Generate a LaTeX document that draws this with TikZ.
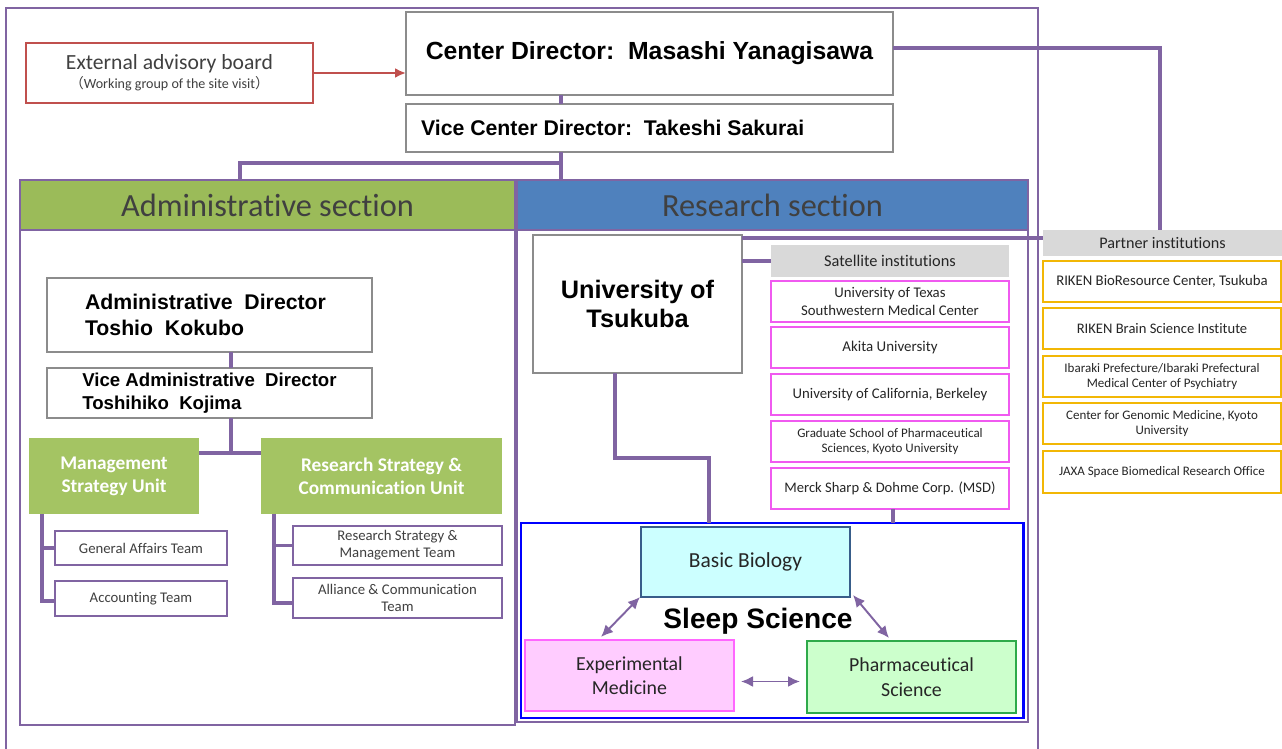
\documentclass[tikz,border=0pt]{standalone}
\usepackage{fontspec}
\setmainfont{Carlito}[Ligatures={NoCommon}]
\newfontfamily\arialf{Liberation Sans}
\newfontfamily\cjkf{Noto Sans CJK JP}
\usetikzlibrary{arrows.meta,calc}
\definecolor{purp}{HTML}{8064A2}
\definecolor{boxgray}{HTML}{8C8C8C}
\definecolor{redb}{HTML}{C0504D}
\definecolor{admgreen}{HTML}{9BBB59}
\definecolor{unitgreen}{HTML}{A4C463}
\definecolor{resblue}{HTML}{4F81BD}
\definecolor{hdtext}{HTML}{404040}
\definecolor{lgray}{HTML}{D9D9D9}
\definecolor{magb}{HTML}{F05AF0}
\definecolor{goldb}{HTML}{F2B705}
\definecolor{txt}{HTML}{262626}
\definecolor{bbfill}{HTML}{CCFFFF}
\definecolor{bbdraw}{HTML}{385D8A}
\definecolor{emfill}{HTML}{FFCCFF}
\definecolor{emdraw}{HTML}{FF66FF}
\definecolor{psfill}{HTML}{CCFFCC}
\definecolor{psdraw}{HTML}{2EAA4A}
\tikzset{
  sz/.style 2 args={minimum width=#1*0.02cm, minimum height=#2*0.02cm, inner sep=0pt, outer sep=0pt},
  conn/.style={draw=purp, line width=2pt},
  frame/.style={draw=purp, line width=1.2pt},
  graybox/.style={draw=boxgray, line width=1pt, fill=white, align=center, text=black},
  header/.style={draw=purp, line width=1.2pt, text=hdtext, font=\fontsize{18.4}{20}\selectfont},
  unitbox/.style={fill=unitgreen, text=white, align=center, font=\bfseries\fontsize{11}{13}\selectfont},
  teambox/.style={draw=purp, line width=1.1pt, fill=white, text=hdtext, align=center},
  satbox/.style={draw=magb, line width=1pt, fill=white, text=txt, align=center},
  partbox/.style={draw=goldb, line width=1pt, fill=white, text=txt, align=center},
  graylabel/.style={fill=lgray, text=txt, align=center},
  dbl/.style={draw=purp, line width=1.1pt, {Latex[length=2.4mm,width=2.2mm]}-{Latex[length=2.4mm,width=2.2mm]}},
}
\begin{document}
\begin{tikzpicture}[x=0.02cm, y=-0.02cm]
\useasboundingbox (0,0) rectangle (1282,749);
\clip (0,0) rectangle (1282,749);
\fill[white] (0,0) rectangle (1282,749);

% outer frame
\draw[frame] (6,760) -- (6,8) -- (1038,8) -- (1038,760);

% top
\node[sz={287}{60}, draw=redb, line width=1.2pt, fill=white, align=center, text=hdtext] (ext) at (169.5,73)
  {{\fontsize{12.3}{15}\selectfont External advisory board}\\[-1pt]{\fontsize{8}{10}\selectfont{\cjkf （}Working group of the site visit{\cjkf ）}}};
\node[sz={487}{83}, graybox, font=\arialf\bfseries\fontsize{14.1}{16}\selectfont] (cdir) at (649.5,53.5) {Center Director:\ \ Masashi Yanagisawa};
\node[sz={487}{48}, graybox, font=\arialf\bfseries\fontsize{12.1}{14}\selectfont] (vdir) at (649.5,128) {\makebox[9.74cm][l]{\hspace{0.3cm}Vice Center Director:\ \ Takeshi Sakurai}};

% sections
\node[sz={495}{545}, frame, anchor=north west] (asec) at (20,180) {};
\node[sz={511}{542}, frame, anchor=north west] (rsec) at (517,180) {};
\node[sz={495}{50}, header, fill=admgreen] (ahead) at (267.5,205) {Administrative section};
\node[sz={511}{50}, header, fill=resblue] (rhead) at (772.5,205) {Research section};

% trunk connectors
\coordinate (trunk) at (561,163);
\coordinate (adrop) at (240,163);
\draw[conn] (cdir.south -| trunk) -- (vdir.north -| trunk);
\draw[conn] (vdir.south -| trunk) -- (rhead.north -| trunk);
\draw[conn] (trunk) -- (adrop) -- (ahead.north -| adrop);
\draw[redb, line width=1.3pt, -{Latex[length=2.2mm,width=2mm]}] (ext.east) -- (ext.east -| cdir.west);

% admin content
\node[sz={325}{74}, graybox, font=\arialf\bfseries\fontsize{12.1}{14.6}\selectfont] (ad) at (209.5,315) {\parbox{6.5cm}{\hspace*{0.76cm}Administrative\ \ Director\\\hspace*{0.76cm}Toshio\ \ Kokubo}};
\node[sz={325}{50}, graybox, align=left, font=\arialf\bfseries\fontsize{10.6}{13.4}\selectfont] (vad) at (209.5,393) {Vice Administrative\ \ Director\\Toshihiko\ \ Kojima};
\node[sz={170}{76}, unitbox] (msu) at (114,476) {Management\\Strategy Unit};
\node[sz={241}{76}, unitbox] (rscu) at (381.5,476) {Research Strategy \&\\Communication Unit};
\node[sz={172}{34}, teambox, font=\fontsize{8.4}{9.5}\selectfont] (gat) at (141,548) {General Affairs Team};
\node[sz={172}{35}, teambox, font=\fontsize{8.4}{9.5}\selectfont] (acc) at (141,598.5) {Accounting Team};
\node[sz={209}{39}, teambox, font=\fontsize{8.4}{9.6}\selectfont] (rsm) at (397.5,545.5) {Research Strategy \&\\Management Team};
\node[sz={209}{40}, teambox, font=\fontsize{8.4}{9.6}\selectfont] (act) at (397.5,598) {Alliance \& Communication\\Team};

\coordinate (ax) at (231,453);
\coordinate (mx) at (42,601);
\coordinate (rx) at (274,603);
\draw[conn] (ad.south -| ax) -- (vad.north -| ax);
\draw[conn] (vad.south -| ax) -- (ax);
\draw[conn] (msu.east |- ax) -- (rscu.west |- ax);
\draw[conn] (msu.south -| mx) -- (mx) -- (acc.west |- mx);
\draw[conn] (gat.west -| mx) -- (gat.west);
\draw[conn] (rscu.south -| rx) -- (rx) -- (act.west |- rx);
\draw[conn] (rsm.west -| rx) -- (rsm.west);

% research content
\node[sz={209}{138}, graybox, font=\arialf\bfseries\fontsize{14.4}{17}\selectfont] (uni) at (637.5,304) {University of\\Tsukuba};
\node[sz={238}{32}, graylabel, font=\fontsize{9.3}{11}\selectfont] (shead) at (890,261) {Satellite\ institutions};
\node[sz={238}{41}, satbox, font=\fontsize{8.4}{9.8}\selectfont] (s1) at (890,301.5) {University of Texas\\Southwestern Medical Center};
\node[sz={238}{41}, satbox, font=\fontsize{8.5}{10}\selectfont] (s2) at (890,347.5) {Akita University};
\node[sz={238}{41}, satbox, font=\fontsize{8.4}{10}\selectfont] (s3) at (890,394.5) {University of California, Berkeley};
\node[sz={238}{41}, satbox, font=\fontsize{7.4}{8.8}\selectfont] (s4) at (890,441.5) {Graduate School of Pharmaceutical\\Sciences, Kyoto University};
\node[sz={238}{41}, satbox, font=\fontsize{8.3}{10}\selectfont] (s5) at (890,488.5) {Merck Sharp \& Dohme Corp. (MSD)};

\node[sz={239}{26}, graylabel, font=\fontsize{9.2}{11}\selectfont] (phead) at (1162.5,243) {Partner institutions};
\node[sz={238}{41}, partbox, font=\fontsize{8.4}{10}\selectfont] (p1) at (1162,281.5) {RIKEN BioResource Center, Tsukuba};
\node[sz={238}{41}, partbox, font=\fontsize{8.3}{10}\selectfont] (p2) at (1162,328.5) {RIKEN Brain Science Institute};
\node[sz={238}{41}, partbox, font=\fontsize{7.4}{8.6}\selectfont] (p3) at (1162,376.5) {Ibaraki Prefecture/Ibaraki Prefectural\\Medical Center of Psychiatry};
\node[sz={238}{41}, partbox, font=\fontsize{7.4}{8.8}\selectfont] (p4) at (1162,423.5) {Center for Genomic Medicine, Kyoto\\University};
\node[sz={238}{42}, partbox, font=\fontsize{7.4}{8.6}\selectfont] (p5) at (1162,472) {JAXA Space Biomedical Research Office};

% sleep science
\node[sz={502}{195}, draw=blue, line width=1.7pt] (sleep) at (772,620.5) {};
\node[sz={209}{70}, fill=bbfill, draw=bbdraw, line width=0.9pt, text=txt, font=\fontsize{12.2}{14}\selectfont] (bb) at (745.5,562) {Basic Biology};
\node[sz={209}{71}, fill=emfill, draw=emdraw, line width=1pt, text=txt, align=center, font=\fontsize{11.3}{14}\selectfont] (em) at (629.5,675.5) {Experimental\\Medicine};
\node[sz={209}{72}, fill=psfill, draw=psdraw, line width=1pt, text=txt, align=center, font=\fontsize{11.3}{14}\selectfont] (ps) at (911.5,677) {Pharmaceutical\\Science};
\node[font=\arialf\bfseries\fontsize{16}{18}\selectfont, inner sep=0pt] (sslab) at (758,621) {Sleep Science};

\draw[dbl] ([xshift=-0.02cm]bb.south west) -- ([xshift=-0.57cm,yshift=0.06cm]em.north);
\draw[dbl] ([xshift=0.06cm,yshift=0.04cm]bb.south east) -- ([xshift=-0.45cm,yshift=0.06cm]ps.north);
\draw[dbl] ([xshift=0.14cm,yshift=-0.12cm]em.east) -- ([xshift=-0.14cm,yshift=-0.12cm]em.east -| ps.west);

% research connectors
\coordinate (udrop) at (615,458);
\coordinate (sin) at (709,458);
\draw[conn] (uni.east |- shead.west) -- (shead.west);
\draw[conn] ([yshift=-0.06cm]uni.north east) coordinate (u1) -- (u1 -| phead.west);
\draw[conn] (uni.south -| udrop) -- (udrop) -- (sin) -- (sin |- sleep.north);
\draw[conn] ([xshift=0.06cm]s5.south) -- ([xshift=0.06cm]s5.south |- sleep.north);
\draw[conn] ([yshift=0.11cm]cdir.east) -| ([xshift=-0.05cm]phead.north);
\end{tikzpicture}
\end{document}
